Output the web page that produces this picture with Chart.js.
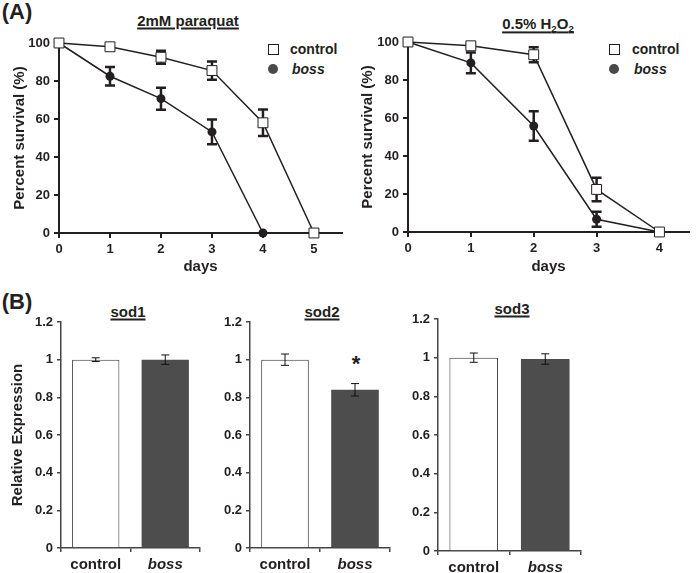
<!DOCTYPE html>
<html><head><meta charset="utf-8">
<script src="https://cdn.jsdelivr.net/npm/chart.js@4"></script>
<style>
body{margin:0;background:#fff;width:697px;height:573px;position:relative;overflow:hidden;font-family:"Liberation Sans",Arial,sans-serif;color:#231f20}
canvas{position:absolute}
.t{position:absolute;font-weight:bold;white-space:nowrap;transform:translate(-50%,-50%);line-height:1}
.u{text-decoration:underline;text-underline-offset:2px;text-decoration-thickness:1.5px}
.lt{position:absolute;font-weight:bold;font-size:14px;white-space:nowrap;transform:translateY(-50%);line-height:1}
.sq{position:absolute;width:9px;height:9px;border:1px solid #231f20;background:#fff}
.ci{position:absolute;width:10px;height:10px;border-radius:50%;background:#4a4a4a}
sub{font-size:0.65em;vertical-align:-0.25em}
</style></head><body>
<div class="t" style="left:17px;top:12px;font-size:22px">(A)</div>
<div class="t u" style="left:188px;top:20px;font-size:15px">2mM paraquat</div>
<div class="t u" style="left:538px;top:25px;font-size:15px">0.5% H<sub>2</sub>O<sub>2</sub></div>
<div class="t" style="left:17px;top:302px;font-size:22px">(B)</div>
<div class="t u" style="left:128px;top:311px;font-size:15px">sod1</div>
<div class="t u" style="left:322px;top:311px;font-size:15px">sod2</div>
<div class="t u" style="left:512px;top:308px;font-size:15px">sod3</div>
<div class="t" style="left:356px;top:364px;font-size:22px">*</div>

<div class="sq" style="left:268px;top:44px"></div><div class="lt" style="left:290px;top:49px">control</div>
<div class="ci" style="left:268px;top:64px"></div><div class="lt" style="left:292px;top:69px;font-style:italic">boss</div>
<div class="sq" style="left:609px;top:44px"></div><div class="lt" style="left:632px;top:49px">control</div>
<div class="ci" style="left:609px;top:64px"></div><div class="lt" style="left:634px;top:69px;font-style:italic">boss</div>

<canvas id="c1" width="350" height="250" style="left:0;top:30px"></canvas>
<canvas id="c2" width="347" height="250" style="left:350px;top:30px"></canvas>
<canvas id="c3" width="215" height="283" style="left:0;top:290px"></canvas>
<canvas id="c4" width="195" height="283" style="left:215px;top:290px"></canvas>
<canvas id="c5" width="287" height="283" style="left:410px;top:290px"></canvas>
<script>
// ---- data ----
const paraquatDays = [0, 1, 2, 3, 4, 5];
const paraquatControl = [100, 98, 92.5, 85.5, 58, 0];
const paraquatControlErr = [0, 1, 3.4, 4.8, 7, 0];
const paraquatBoss = [100, 82.5, 70.7, 53.2, 0];
const paraquatBossErr = [0, 4.9, 5.8, 6.5, 0];

const h2o2Days = [0, 1, 2, 3, 4];
const h2o2Control = [100, 98, 93.3, 22.4, 0];
const h2o2ControlErr = [0, 1, 3.9, 6.2, 0];
const h2o2Boss = [100, 89, 55.8, 6.7, 0];
const h2o2BossErr = [0, 5.5, 7.8, 4, 0];

const genotypes = ['control', 'boss'];
const sod1 = [1.0, 1.0];
const sod1Err = [0.01, 0.025];
const sod2 = [1.0, 0.84];
const sod2Err = [0.03, 0.033];
const sod3 = [1.0, 0.993];
const sod3Err = [0.024, 0.027];

const survivalTicks = [0, 20, 40, 60, 80, 100];
const expressionTicks = [0, 0.2, 0.4, 0.6, 0.8, 1, 1.2];

// ---- plugin ----
const errorBars = {
  id: 'errorBars',
  beforeDatasetsDraw(chart, args, opts) { if (opts.under) draw(chart, opts); },
  afterDatasetsDraw(chart, args, opts) { if (!opts.under) draw(chart, opts); }
};
function draw(chart, opts) {
  const ctx = chart.ctx, ys = chart.scales.y;
  ctx.save();
  ctx.strokeStyle = opts.color || '#000';
  ctx.lineWidth = opts.lineWidth || 1;
  const cw = (opts.cap || 8) / 2;
  chart.data.datasets.forEach((ds, di) => {
    if (!ds.errors) return;
    const meta = chart.getDatasetMeta(di);
    meta.data.forEach((el, i) => {
      const e = ds.errors[i];
      if (!e) return;
      const d = ds.data[i];
      const v = (typeof d === 'object') ? d.y : d;
      const t = ys.getPixelForValue(v + e), b = ys.getPixelForValue(v - e);
      ctx.beginPath();
      ctx.moveTo(el.x, t); ctx.lineTo(el.x, b);
      ctx.moveTo(el.x - cw, t); ctx.lineTo(el.x + cw, t);
      ctx.moveTo(el.x - cw, b); ctx.lineTo(el.x + cw, b);
      ctx.stroke();
    });
  });
  ctx.restore();
}
Chart.register(errorBars);

const INK = '#231f20';
const fontA = {family: '"Liberation Sans", Arial, sans-serif', weight: 'bold', size: 13};

function survival(id, days, ctrl, ctrlErr, boss, bossErr, xmax, g) {
  new Chart(document.getElementById(id), {
    type: 'line',
    data: {
      datasets: [
        {label: 'control', data: days.map((x, i) => ({x, y: ctrl[i]})), errors: ctrlErr,
         borderColor: INK, borderWidth: 1.5, pointStyle: 'rect', pointRadius: 7,
         pointBackgroundColor: '#fff', pointBorderColor: INK, pointBorderWidth: 1, clip: false, order: 0},
        {label: 'boss', data: days.slice(0, boss.length).map((x, i) => ({x, y: boss[i]})), errors: bossErr,
         borderColor: INK, borderWidth: 1.5, pointStyle: 'circle', pointRadius: 4.5,
         pointBackgroundColor: INK, pointBorderColor: INK, pointBorderWidth: 0, clip: false, order: 1}
      ]
    },
    options: {
      responsive: false, animation: false,
      layout: {padding: {top: g.top, right: g.right, left: 0, bottom: 0}},
      plugins: {legend: {display: false}, tooltip: {enabled: false},
        errorBars: {under: true, color: INK, lineWidth: 2.5, cap: 10}},
      scales: {
        x: {type: 'linear', min: 0, max: xmax,
          afterBuildTicks: s => { s.ticks = days.map(v => ({value: v})); },
          afterFit: s => { s.height = g.xh; },
          ticks: {font: fontA, color: INK, padding: 4, maxRotation: 0, autoSkip: false},
          grid: {drawOnChartArea: false, tickLength: 5, color: INK, lineWidth: 2},
          border: {color: INK, width: 2},
          title: {display: true, text: 'days', font: {...fontA, size: 15}, color: INK, padding: {top: 0, bottom: 4}}},
        y: {min: 0, max: 100,
          afterBuildTicks: s => { s.ticks = survivalTicks.map(v => ({value: v})); },
          afterFit: s => { s.width = g.yw; },
          ticks: {font: fontA, color: INK, padding: 4},
          grid: {drawOnChartArea: false, tickLength: 5, color: INK, lineWidth: 2},
          border: {color: INK, width: 2},
          title: {display: true, text: 'Percent survival (%)', font: {...fontA, size: 15}, color: INK, padding: {top: g.tp, bottom: 0}}}
      }
    }
  });
}
survival('c1', paraquatDays, paraquatControl, paraquatControlErr, paraquatBoss, paraquatBossErr, 5.55,
  {top: 13, right: 7, xh: 47, yw: 59, tp: 11});
survival('c2', h2o2Days, h2o2Control, h2o2ControlErr, h2o2Boss, h2o2BossErr, 4.47,
  {top: 12, right: 5, xh: 48, yw: 58, tp: 9});

const fontB = {family: '"Liberation Sans", Arial, sans-serif', weight: 'bold', size: 13};
const AX = '#444';
function sod(id, vals, errs, g) {
  new Chart(document.getElementById(id), {
    type: 'bar',
    data: {labels: genotypes, datasets: [{data: vals, errors: errs,
      backgroundColor: ['#ffffff', '#4d4d4d'], borderColor: ['#333333', '#4d4d4d'], borderWidth: [1, 0],
      categoryPercentage: 1, barPercentage: 0.68}]},
    options: {
      responsive: false, animation: false,
      layout: {padding: {top: g.top, right: g.right, left: 0, bottom: 0}},
      plugins: {legend: {display: false}, tooltip: {enabled: false},
        errorBars: {under: false, color: '#111', lineWidth: 1, cap: 8}},
      scales: {
        x: {afterFit: s => { s.height = g.xh; },
          ticks: {font: c => ({...fontB, size: 15, style: c.index === 1 ? 'italic' : 'normal'}), color: INK, padding: 4, maxRotation: 0},
          grid: {drawOnChartArea: false, tickLength: 4, color: AX, lineWidth: 1.5},
          border: {color: AX, width: 1.5}},
        y: {min: 0, max: 1.2,
          afterBuildTicks: s => { s.ticks = expressionTicks.map(v => ({value: v})); },
          afterFit: s => { s.width = g.yw; },
          ticks: {font: fontB, color: INK, padding: 4, callback: v => String(+v.toFixed(1))},
          grid: {drawOnChartArea: false, tickLength: 4, color: AX, lineWidth: 1.5},
          border: {color: AX, width: 1.5},
          title: {display: g.title, text: 'Relative Expression', font: {...fontB, size: 15}, color: INK, padding: {top: 9, bottom: 0}}}
      }
    }
  });
}
sod('c3', sod1, sod1Err, {top: 32, right: 15, xh: 25, yw: 61, title: true});
sod('c4', sod2, sod2Err, {top: 32, right: 20, xh: 25, yw: 35, title: false});
sod('c5', sod3, sod3Err, {top: 29, right: 116, xh: 22, yw: 28, title: false});
</script>
</body></html>
